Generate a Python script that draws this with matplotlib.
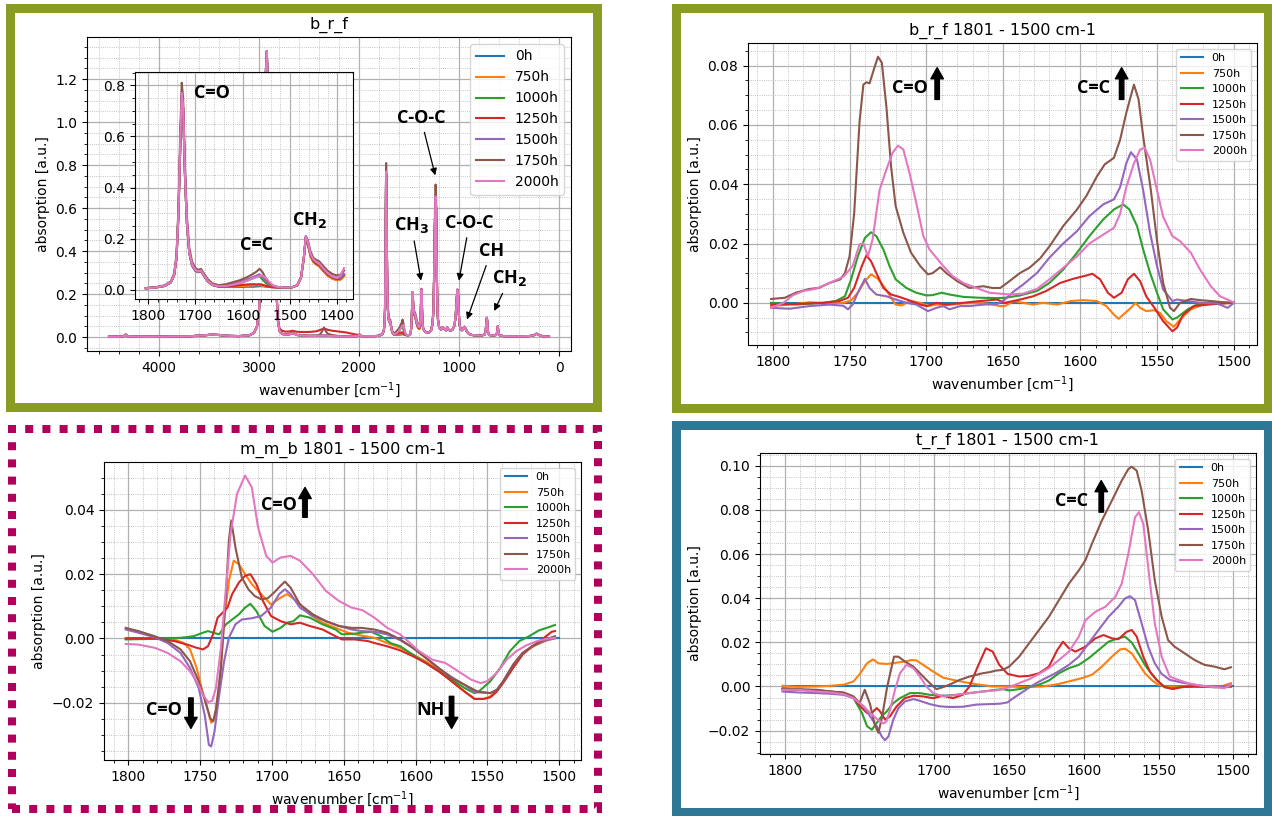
import numpy as np
import matplotlib.pyplot as plt
from matplotlib.patches import Rectangle
from matplotlib.ticker import AutoMinorLocator, MultipleLocator

W, H = 1272, 816

hours = ['0h', '750h', '1000h', '1250h', '1500h', '1750h', '2000h']
colors = ['C0', 'C1', 'C2', 'C3', 'C4', 'C5', 'C6']

# ---------------- b_r_f full spectrum (4500 - 100 cm-1) ----------------
# segment A: 4500 - 2826, identical for every ageing time
brf_seg_a = [(4500, 0.002), (4420, 0.002), (4355, 0.004), (4332, 0.012), (4315, 0.004),
             (4250, 0.003), (4100, 0.002), (3900, 0.003), (3700, 0.004), (3560, 0.008),
             (3470, 0.012), (3400, 0.010), (3300, 0.006), (3200, 0.005), (3100, 0.008),
             (3050, 0.020), (3020, 0.050), (3000, 0.120), (2985, 0.300), (2970, 0.600),
             (2955, 0.900), (2940, 1.100), (2930, 1.250), (2922, 1.330), (2914, 1.200),
             (2905, 0.950), (2895, 0.800), (2880, 0.720), (2866, 0.800), (2856, 0.900),
             (2848, 0.850), (2838, 0.550), (2826, 0.220)]

# segment B: 2812 - 1815
brf_seg_b = [(2812, 0.080), (2795, 0.030), (2770, 0.015), (2740, 0.012), (2700, 0.012),
             (2670, 0.018), (2650, 0.016), (2620, 0.010), (2580, 0.008), (2500, 0.006),
             (2430, 0.006), (2390, 0.007), (2365, 0.008), (2350, 0.009), (2335, 0.008),
             (2310, 0.006), (2270, 0.005), (2200, 0.004), (2130, 0.003), (2060, 0.004),
             (2010, 0.005), (1995, 0.012), (1980, 0.005), (1940, 0.004), (1880, 0.005),
             (1840, 0.005), (1815, 0.006)]
brf_seg_b_1250h = [(2812, 0.085), (2795, 0.040), (2770, 0.030), (2740, 0.026), (2700, 0.026),
                   (2670, 0.030), (2650, 0.028), (2620, 0.025), (2580, 0.024), (2500, 0.024),
                   (2430, 0.027), (2390, 0.033), (2365, 0.038), (2350, 0.040), (2335, 0.038),
                   (2310, 0.034), (2270, 0.030), (2200, 0.026), (2130, 0.022), (2060, 0.015),
                   (2010, 0.010), (1995, 0.012), (1980, 0.006), (1940, 0.005), (1880, 0.005),
                   (1840, 0.005), (1815, 0.006)]
brf_seg_b_1750h = [(2812, 0.080), (2795, 0.030), (2770, 0.016), (2740, 0.013), (2700, 0.014),
                   (2670, 0.020), (2650, 0.017), (2620, 0.011), (2580, 0.009), (2500, 0.007),
                   (2430, 0.007), (2390, 0.012), (2365, 0.030), (2350, 0.045), (2335, 0.030),
                   (2310, 0.015), (2270, 0.010), (2200, 0.005), (2130, 0.004), (2060, 0.004),
                   (2010, 0.005), (1995, 0.012), (1980, 0.005), (1940, 0.004), (1880, 0.005),
                   (1840, 0.005), (1815, 0.006)]

# segment MID: 1805 - 1385 (this part is also shown in the inset)
brf_mid_wn = [1805, 1785, 1765, 1752, 1745, 1740, 1736, 1733, 1729, 1726,
              1722, 1718, 1713, 1707, 1700, 1694, 1688, 1682, 1674, 1664,
              1650, 1635, 1620, 1605, 1590, 1578, 1570, 1564, 1558, 1550,
              1542, 1535, 1525, 1510, 1495, 1484, 1476, 1470, 1466, 1462,
              1456, 1450, 1444, 1438, 1430, 1420, 1410, 1400, 1392, 1385]
brf_mid_0h = [0.006, 0.009, 0.015, 0.029, 0.058, 0.125, 0.290, 0.500, 0.760, 0.710,
              0.440, 0.260, 0.145, 0.095, 0.075, 0.069, 0.073, 0.056, 0.034, 0.019,
              0.012, 0.011, 0.011, 0.011, 0.012, 0.012, 0.013, 0.014, 0.014, 0.012,
              0.011, 0.010, 0.009, 0.009, 0.010, 0.017, 0.048, 0.125, 0.200, 0.180,
              0.132, 0.110, 0.100, 0.094, 0.077, 0.057, 0.045, 0.039, 0.042, 0.055]
brf_mid_750h = [0.006, 0.009, 0.015, 0.029, 0.058, 0.125, 0.290, 0.500, 0.760, 0.710,
                0.440, 0.260, 0.145, 0.095, 0.075, 0.069, 0.073, 0.056, 0.034, 0.019,
                0.012, 0.012, 0.013, 0.014, 0.016, 0.017, 0.018, 0.018, 0.016, 0.013,
                0.011, 0.010, 0.009, 0.009, 0.010, 0.017, 0.048, 0.125, 0.200, 0.180,
                0.130, 0.108, 0.098, 0.092, 0.075, 0.055, 0.043, 0.037, 0.040, 0.052]
brf_mid_1000h = [0.006, 0.009, 0.015, 0.029, 0.058, 0.125, 0.290, 0.500, 0.760, 0.710,
                 0.440, 0.260, 0.145, 0.095, 0.075, 0.069, 0.073, 0.056, 0.034, 0.019,
                 0.013, 0.015, 0.020, 0.027, 0.036, 0.045, 0.052, 0.054, 0.040, 0.025,
                 0.016, 0.012, 0.010, 0.009, 0.010, 0.018, 0.050, 0.130, 0.205, 0.185,
                 0.135, 0.113, 0.103, 0.097, 0.080, 0.060, 0.048, 0.042, 0.045, 0.058]
brf_mid_1250h = [0.006, 0.009, 0.015, 0.029, 0.058, 0.125, 0.290, 0.500, 0.760, 0.710,
                 0.440, 0.260, 0.145, 0.095, 0.075, 0.069, 0.073, 0.056, 0.034, 0.019,
                 0.012, 0.013, 0.015, 0.018, 0.021, 0.022, 0.021, 0.022, 0.020, 0.015,
                 0.011, 0.010, 0.009, 0.009, 0.010, 0.018, 0.050, 0.130, 0.205, 0.185,
                 0.135, 0.113, 0.103, 0.097, 0.080, 0.060, 0.048, 0.042, 0.045, 0.060]
brf_mid_1500h = [0.006, 0.009, 0.015, 0.029, 0.058, 0.125, 0.290, 0.500, 0.760, 0.710,
                 0.440, 0.260, 0.145, 0.095, 0.075, 0.069, 0.073, 0.056, 0.034, 0.019,
                 0.014, 0.017, 0.023, 0.031, 0.041, 0.050, 0.056, 0.061, 0.050, 0.033,
                 0.020, 0.014, 0.010, 0.009, 0.010, 0.018, 0.050, 0.130, 0.210, 0.190,
                 0.140, 0.118, 0.108, 0.102, 0.085, 0.065, 0.052, 0.046, 0.048, 0.062]
brf_mid_1750h = [0.007, 0.010, 0.018, 0.033, 0.065, 0.140, 0.320, 0.550, 0.810, 0.750,
                 0.480, 0.290, 0.165, 0.110, 0.085, 0.078, 0.082, 0.064, 0.042, 0.025,
                 0.018, 0.022, 0.030, 0.038, 0.050, 0.062, 0.072, 0.082, 0.070, 0.042,
                 0.025, 0.016, 0.011, 0.009, 0.010, 0.018, 0.050, 0.130, 0.210, 0.195,
                 0.150, 0.125, 0.117, 0.112, 0.095, 0.075, 0.062, 0.056, 0.060, 0.075]
brf_mid_2000h = [0.006, 0.009, 0.016, 0.030, 0.060, 0.130, 0.300, 0.520, 0.770, 0.720,
                 0.450, 0.270, 0.150, 0.100, 0.078, 0.072, 0.076, 0.058, 0.036, 0.020,
                 0.014, 0.015, 0.020, 0.027, 0.036, 0.045, 0.050, 0.054, 0.056, 0.045,
                 0.028, 0.017, 0.011, 0.009, 0.010, 0.018, 0.050, 0.130, 0.210, 0.190,
                 0.140, 0.120, 0.110, 0.104, 0.086, 0.066, 0.052, 0.046, 0.058, 0.085]

# segment LOW: 1380 - 100
brf_seg_low = [(1380, 0.150), (1376, 0.220), (1372, 0.170), (1366, 0.070), (1358, 0.040),
               (1345, 0.028), (1325, 0.022), (1300, 0.022), (1280, 0.030), (1265, 0.060),
               (1255, 0.130), (1246, 0.350), (1240, 0.550), (1234, 0.655), (1229, 0.600),
               (1224, 0.380), (1218, 0.180), (1210, 0.080), (1198, 0.045), (1180, 0.035),
               (1165, 0.045), (1150, 0.040), (1130, 0.032), (1118, 0.045), (1105, 0.035),
               (1085, 0.030), (1065, 0.035), (1045, 0.055), (1033, 0.100), (1024, 0.170),
               (1016, 0.220), (1010, 0.200), (1003, 0.120), (995, 0.060), (985, 0.038),
               (970, 0.032), (955, 0.042), (945, 0.048), (935, 0.040), (920, 0.025),
               (900, 0.015), (870, 0.010), (820, 0.008), (770, 0.008), (745, 0.012),
               (733, 0.030), (726, 0.070), (721, 0.090), (716, 0.060), (709, 0.022),
               (698, 0.010), (660, 0.008), (630, 0.010), (620, 0.020), (613, 0.050),
               (607, 0.030), (598, 0.010), (560, 0.005), (480, 0.004), (380, 0.004),
               (300, 0.005), (255, 0.008), (225, 0.016), (200, 0.010), (160, 0.004),
               (100, 0.002)]
brf_seg_low_1750h = [(1380, 0.152), (1376, 0.225), (1372, 0.172), (1366, 0.072), (1358, 0.041),
                     (1345, 0.029), (1325, 0.023), (1300, 0.023), (1280, 0.031), (1265, 0.064),
                     (1255, 0.140), (1246, 0.380), (1240, 0.600), (1234, 0.710), (1229, 0.650),
                     (1224, 0.400), (1218, 0.190), (1210, 0.082), (1198, 0.046), (1180, 0.036),
                     (1165, 0.045), (1150, 0.040), (1130, 0.032), (1118, 0.045), (1105, 0.035),
                     (1085, 0.030), (1065, 0.035), (1045, 0.055), (1033, 0.100), (1024, 0.170),
                     (1016, 0.222), (1010, 0.200), (1003, 0.120), (995, 0.060), (985, 0.038),
                     (970, 0.032), (955, 0.042), (945, 0.048), (935, 0.040), (920, 0.025),
                     (900, 0.015), (870, 0.010), (820, 0.008), (770, 0.008), (745, 0.012),
                     (733, 0.030), (726, 0.070), (721, 0.090), (716, 0.060), (709, 0.022),
                     (698, 0.010), (660, 0.008), (630, 0.010), (620, 0.020), (613, 0.050),
                     (607, 0.030), (598, 0.010), (560, 0.005), (480, 0.004), (380, 0.004),
                     (300, 0.005), (255, 0.008), (225, 0.016), (200, 0.010), (160, 0.004),
                     (100, 0.002)]

# ---------------- difference spectra 1801 - 1500 cm-1 ----------------
zero_line = [(1801, 0.0), (1500, 0.0)]

brf_750h = [(1801, -0.0011), (1785, -0.0004), (1776, 0.0002), (1763, -0.0002), (1754, 0.0),
            (1749, 0.0008), (1744.6, 0.0034), (1740, 0.0073), (1736, 0.0096), (1731.5, 0.0081),
            (1727, 0.005), (1723, 0.0017), (1720, -0.0006), (1716, -0.0009), (1713, 0.0),
            (1710, 0.0006), (1704, 0.0), (1699, -0.0011), (1693.5, -0.0006), (1687, -0.0008),
            (1676, -0.0002), (1665, 0.0), (1657, -0.0006), (1652, -0.0011), (1649, -0.0011),
            (1643, 0.0006), (1637, 0.0), (1630.6, -0.0006), (1624, 0.0), (1615, -0.0006),
            (1606, 0.0006), (1598, 0.0009), (1589, 0.0006), (1583, -0.0011), (1578, -0.004),
            (1575, -0.0054), (1572, -0.004), (1567, -0.0017), (1564, 0.0), (1561, -0.0017),
            (1557, -0.0028), (1552, -0.0025), (1548, -0.0034), (1544, -0.0062), (1539, -0.0081),
            (1535, -0.0056), (1528, -0.0022), (1520, -0.0006), (1507, -0.0002), (1500, 0.0)]
brf_1000h = [(1801, 0.0), (1785, -0.0006), (1767, 0.0), (1759, 0.0006), (1753, 0.0022),
             (1749, 0.0079), (1744.6, 0.0157), (1740, 0.0219), (1736, 0.0238), (1732.6, 0.0225),
             (1728, 0.018), (1724, 0.0124), (1720, 0.0079), (1713, 0.005), (1706.6, 0.0034),
             (1700, 0.0025), (1696, 0.0026), (1690, 0.0034), (1685, 0.0028), (1676, 0.002),
             (1665, 0.0017), (1654, 0.0016), (1649, 0.0017), (1639, 0.0025), (1628, 0.004),
             (1620, 0.0067), (1611, 0.0112), (1602, 0.0169), (1594, 0.0225), (1585, 0.0281),
             (1578, 0.0315), (1572, 0.0332), (1568, 0.0315), (1563, 0.0259), (1559, 0.018),
             (1554.5, 0.0101), (1550, 0.0034), (1546, -0.0022), (1540, -0.0056), (1537, -0.005),
             (1530, -0.0022), (1524, -0.0006), (1515, 0.0), (1500, 0.0)]
brf_1250h = [(1801, -0.0006), (1785, -0.0004), (1767, 0.0), (1756.5, 0.0006), (1751, 0.0017),
             (1747, 0.005), (1742, 0.0124), (1739, 0.016), (1736, 0.014), (1732.6, 0.0101),
             (1728, 0.005), (1723, 0.0028), (1717, 0.0019), (1711, 0.0008), (1704, -0.0006),
             (1700, -0.0011), (1693.5, 0.0), (1687, -0.0006), (1676, 0.0), (1665, 0.0006),
             (1654, 0.0011), (1649, 0.0), (1639, 0.0011), (1630.6, 0.0022), (1622, 0.004),
             (1613, 0.0067), (1604.5, 0.0081), (1596, 0.0092), (1592, 0.0098), (1587, 0.0079),
             (1582, 0.0034), (1578, 0.0017), (1573, 0.0034), (1569, 0.0079), (1565, 0.0098),
             (1561, 0.0073), (1557, 0.0022), (1551, -0.0022), (1546, -0.0062), (1540, -0.0096),
             (1537, -0.0084), (1533, -0.004), (1526, -0.0011), (1517, -0.0006), (1507, -0.0002),
             (1500, 0.0)]
brf_1500h = [(1801, -0.0017), (1789, -0.002), (1776, -0.0011), (1763, -0.0006), (1754, -0.001),
             (1751, -0.0022), (1748, -0.0006), (1744.6, 0.0034), (1740, 0.0081), (1737, 0.005),
             (1732.6, 0.0028), (1726, 0.0022), (1720, 0.0011), (1713, 0.0), (1706.6, -0.0006),
             (1699, -0.0028), (1693.5, -0.0017), (1689, -0.0011), (1685, -0.0022), (1678, -0.0011),
             (1672, -0.0011), (1663, -0.0006), (1654, -0.0004), (1649, 0.0011), (1643, 0.0039),
             (1637, 0.0062), (1628, 0.0101), (1620, 0.0152), (1611, 0.020), (1602, 0.0242),
             (1594, 0.0292), (1585, 0.0332), (1578, 0.0349), (1574, 0.039), (1570, 0.047),
             (1567, 0.0508), (1563, 0.0483), (1559, 0.038), (1554.5, 0.0236), (1550, 0.0124),
             (1546, 0.0045), (1540, 0.0006), (1537, 0.0011), (1530, 0.0006), (1522, 0.0),
             (1511, -0.0002), (1504, -0.0017), (1500, 0.0)]
brf_1750h = [(1801, 0.0013), (1792, 0.0017), (1785, 0.0034), (1776, 0.0047), (1770, 0.005),
             (1763, 0.0067), (1756, 0.0079), (1753, 0.010), (1750, 0.0157), (1747, 0.030),
             (1743.5, 0.061), (1741, 0.0736), (1739, 0.0744), (1737, 0.074), (1734, 0.079),
             (1731.5, 0.083), (1729, 0.081), (1726, 0.066), (1723, 0.046), (1720, 0.0326),
             (1715, 0.0236), (1710, 0.0169), (1704, 0.0124), (1699, 0.0096), (1696, 0.010),
             (1691, 0.012), (1687, 0.010), (1680, 0.0073), (1672, 0.005), (1663, 0.0056),
             (1657, 0.005), (1652, 0.005), (1646, 0.0073), (1639, 0.0101), (1633, 0.0118),
             (1626, 0.015), (1620, 0.019), (1611, 0.0259), (1602, 0.0315), (1596, 0.036),
             (1589, 0.0427), (1584, 0.0467), (1578, 0.0489), (1574, 0.055), (1570, 0.064),
             (1565, 0.0736), (1562, 0.0686), (1559, 0.0562), (1554, 0.038), (1550, 0.021),
             (1546, 0.0067), (1541.5, -0.0017), (1539, -0.0028), (1535, 0.0), (1528, 0.0013),
             (1522, 0.0009), (1515, 0.0006), (1507, 0.0002), (1500, 0.0)]
brf_2000h = [(1801, -0.0017), (1793, 0.0), (1787, 0.0025), (1780, 0.004), (1772, 0.0047),
             (1763, 0.0067), (1754, 0.0088), (1748, 0.0124), (1743.5, 0.0197), (1741, 0.020),
             (1738, 0.0157), (1735, 0.0214), (1730.5, 0.038), (1726, 0.045), (1722, 0.0506),
             (1718.5, 0.053), (1715, 0.0517), (1711, 0.0438), (1706.6, 0.0337), (1702, 0.0225),
             (1698, 0.018), (1693.5, 0.0152), (1689, 0.0124), (1683, 0.009), (1676, 0.0067),
             (1667.5, 0.005), (1659, 0.0034), (1646, 0.0028), (1637, 0.0031), (1628, 0.0047),
             (1620, 0.0079), (1611, 0.0118), (1602, 0.0157), (1594, 0.020), (1585, 0.023),
             (1578, 0.0253), (1574, 0.030), (1570, 0.039), (1565, 0.047), (1561, 0.0517),
             (1558, 0.0523), (1554.5, 0.0483), (1550, 0.038), (1546, 0.029), (1540, 0.0225),
             (1535, 0.0208), (1528, 0.0169), (1522, 0.0112), (1515, 0.0056), (1509, 0.0022),
             (1502, 0.0006), (1500, 0.0)]

mmb_750h = [(1801.8, 0.0), (1781.6, 0.0), (1768, -0.0003), (1761.4, -0.0014), (1757, -0.0034),
            (1752.4, -0.0092), (1749, -0.0154), (1745.6, -0.0206), (1742.3, -0.0262), (1740, -0.025),
            (1736.7, -0.0154), (1733.3, 0.0054), (1730, 0.0179), (1726.6, 0.0242), (1723, 0.0231),
            (1718.7, 0.020), (1714, 0.0169), (1707.5, 0.0138), (1700.7, 0.0106), (1694, 0.0127),
            (1689.5, 0.0138), (1682.8, 0.0117), (1673.8, 0.0075), (1664.8, 0.0049), (1655.8, 0.0033),
            (1647, 0.0018), (1637.8, 0.0009), (1628.8, 0.0002), (1620, -0.0014), (1610.8, -0.0029),
            (1602, -0.005), (1593, -0.0071), (1584, -0.0097), (1575, -0.0133), (1566, -0.0165),
            (1559, -0.0188), (1552.5, -0.0188), (1548, -0.018), (1543.5, -0.0165), (1539, -0.0133),
            (1532, -0.0081), (1525.5, -0.0045), (1516.5, -0.0021), (1509.8, -0.0008), (1503, 0.0002)]
mmb_1000h = [(1801.8, -0.0003), (1781.6, -0.0001), (1763.6, 0.0002), (1754.6, 0.0007), (1748, 0.0018),
             (1744.5, 0.0023), (1741, 0.0018), (1736.7, 0.0013), (1732, 0.0044), (1727.7, 0.0059),
             (1723, 0.0075), (1718.7, 0.0096), (1715, 0.0108), (1710.8, 0.0085), (1705.2, 0.0039),
             (1699.6, 0.0021), (1694, 0.0033), (1689.5, 0.0049), (1685, 0.0054), (1680.5, 0.0072),
             (1673.8, 0.0065), (1664.8, 0.0044), (1655.8, 0.0028), (1651.3, 0.0013), (1642.3, 0.0015),
             (1637.8, 0.0018), (1631, 0.0021), (1624, 0.0007), (1617.6, -0.0014), (1610.8, -0.0024),
             (1602, -0.005), (1593, -0.0076), (1584, -0.0102), (1575, -0.0128), (1566, -0.0154),
             (1559, -0.017), (1556, -0.0165), (1548, -0.0133), (1541.2, -0.0092), (1534.5, -0.004),
             (1527.8, -0.0008), (1521, 0.0007), (1514.3, 0.0025), (1507.5, 0.0035), (1503, 0.0042)]
mmb_1250h = [(1801.8, 0.0), (1781.6, 0.0), (1768, -0.0008), (1759, -0.0019), (1752.4, -0.0029),
             (1748, -0.0034), (1744.5, -0.0024), (1741, 0.0013), (1737.8, 0.0065), (1734.4, 0.008),
             (1731, 0.0096), (1727.7, 0.0138), (1723, 0.0174), (1718.7, 0.0195), (1715, 0.020),
             (1710.8, 0.0169), (1706.3, 0.0117), (1700.7, 0.007), (1694, 0.0054), (1687, 0.0044),
             (1680.5, 0.0049), (1673.8, 0.0039), (1664.8, 0.0028), (1655.8, 0.0007), (1651.3, -0.0003),
             (1642.3, -0.0003), (1633.3, -0.0008), (1628.8, -0.0014), (1620, -0.0024), (1610.8, -0.0037),
             (1602, -0.0055), (1593, -0.0076), (1584, -0.0102), (1575, -0.0133), (1566, -0.0165),
             (1559, -0.0188), (1552.5, -0.0188), (1548, -0.0183), (1543.5, -0.0165), (1539, -0.0138),
             (1532, -0.0091), (1525.5, -0.005), (1518.8, -0.0024), (1512, -0.0003), (1505.3, 0.0021),
             (1503, 0.0023)]
mmb_1500h = [(1801.8, 0.0028), (1793, 0.0018), (1781.6, 0.0004), (1772.6, -0.0014), (1763.6, -0.0045),
             (1757, -0.0092), (1751, -0.0154), (1746.8, -0.0238), (1743.9, -0.0331), (1742.3, -0.0336),
             (1740, -0.029), (1736.7, -0.0175), (1733.3, -0.0071), (1730, 0.0002), (1725.4, 0.0044),
             (1721, 0.0059), (1714, 0.0063), (1707.5, 0.007), (1700.7, 0.0096), (1695, 0.0138),
             (1691, 0.0153), (1687, 0.0138), (1680.5, 0.0096), (1671.5, 0.007), (1662.5, 0.0054),
             (1653.5, 0.0039), (1644.6, 0.0028), (1637.8, 0.0023), (1628.8, 0.0021), (1620, 0.0013),
             (1610.8, -0.0005), (1602, -0.0029), (1593, -0.006), (1584, -0.0092), (1575, -0.012),
             (1566, -0.0144), (1559, -0.0167), (1548, -0.017), (1543.5, -0.016), (1539, -0.0133),
             (1532, -0.0081), (1525.5, -0.0045), (1518.8, -0.0024), (1509.8, -0.0006), (1503, 0.0)]
mmb_1750h = [(1801.8, 0.0033), (1793, 0.0023), (1781.6, 0.0007), (1772.6, -0.0008), (1763.6, -0.0034),
             (1757, -0.0071), (1751, -0.0133), (1746.8, -0.019), (1743, -0.0248), (1741, -0.0258),
             (1739, -0.0222), (1735.5, -0.0092), (1732, 0.0138), (1730, 0.0304), (1728.3, 0.0367),
             (1725.4, 0.0283), (1721, 0.019), (1716.4, 0.0153), (1712, 0.0132), (1707.5, 0.0122),
             (1703, 0.0125), (1698.5, 0.0143), (1694, 0.0164), (1691, 0.0177), (1687, 0.0158),
             (1680.5, 0.0106), (1671.5, 0.0075), (1662.5, 0.0054), (1653.5, 0.0039), (1644.6, 0.0033),
             (1637.8, 0.0033), (1628.8, 0.0028), (1620, 0.0018), (1610.8, -0.0003), (1601.9, -0.0029),
             (1593, -0.006), (1584, -0.0092), (1575, -0.0123), (1566, -0.0144), (1557, -0.0165),
             (1548, -0.017), (1543.5, -0.016), (1539, -0.0133), (1532, -0.0081), (1525.5, -0.0045),
             (1518.8, -0.0024), (1509.8, -0.0003), (1503, 0.0007)]
mmb_2000h = [(1801.8, -0.0017), (1793, -0.0019), (1781.6, -0.0029), (1772.6, -0.0045), (1763.6, -0.0071),
             (1757, -0.0102), (1752.4, -0.0133), (1748, -0.0175), (1744.5, -0.0198), (1741.6, -0.0194),
             (1739, -0.0154), (1735.5, -0.0029), (1732, 0.0158), (1728.8, 0.0325), (1724.3, 0.045),
             (1718.7, 0.0507), (1714, 0.047), (1709.7, 0.0346), (1704, 0.0257), (1699.6, 0.0236),
             (1694, 0.0252), (1687, 0.0257), (1680.5, 0.0242), (1671.5, 0.020), (1662.5, 0.0148),
             (1653.5, 0.0117), (1644.6, 0.0096), (1637, 0.0088), (1628.8, 0.0065), (1619.8, 0.0033),
             (1610.8, 0.0013), (1604, -0.0014), (1597.4, -0.004), (1588.4, -0.0066), (1579.4, -0.0076),
             (1570.4, -0.0102), (1561.4, -0.0128), (1554.7, -0.0139), (1550.2, -0.0133), (1543.5, -0.0107),
             (1536.7, -0.0066), (1530, -0.004), (1523.3, -0.0022), (1515.4, -0.0008), (1507.5, 0.0),
             (1503, 0.0002)]

trf_750h = [(1801.5, 0.0003), (1791.6, -0.0002), (1778.3, 0.0), (1769.5, 0.0003), (1760.6, 0.0008),
            (1754, 0.0023), (1749.5, 0.006), (1745, 0.0105), (1741, 0.0123), (1737.4, 0.0105),
            (1731.8, 0.0102), (1725.2, 0.0108), (1719.7, 0.0113), (1715.2, 0.012), (1712, 0.0118),
            (1707.5, 0.0098), (1700.9, 0.0068), (1694.2, 0.004), (1687.6, 0.003), (1678.7, 0.0018),
            (1670, 0.0008), (1661, 0.0), (1650, 0.0), (1641, -0.0003), (1627.8, 0.0),
            (1619, 0.0008), (1610, 0.0023), (1601.2, 0.0038), (1594.6, 0.0053), (1588, 0.009),
            (1581.3, 0.0135), (1575.8, 0.0168), (1572.5, 0.0171), (1568, 0.015), (1563.6, 0.0105),
            (1559.2, 0.006), (1554.8, 0.003), (1550.4, 0.0008), (1546, 0.0), (1539.3, 0.0),
            (1526, 0.0), (1508.3, 0.0), (1501.7, 0.0015)]
trf_1000h = [(1801.5, -0.0012), (1791.6, -0.0015), (1778.3, -0.0018), (1769.5, -0.0023), (1760.6, -0.003),
             (1754, -0.0053), (1748.4, -0.012), (1745, -0.018), (1741.8, -0.0196), (1738.5, -0.0165),
             (1735.2, -0.0135), (1731.8, -0.0113), (1727.4, -0.0075), (1723, -0.0053), (1716.3, -0.003),
             (1709.7, -0.003), (1703, -0.0038), (1694.2, -0.0042), (1685.4, -0.0038), (1676.5, -0.003),
             (1667.7, -0.0023), (1658.8, -0.0015), (1654.3, -0.0012), (1650, -0.0018), (1643.3, -0.0012),
             (1636.6, -0.0003), (1630, 0.0008), (1623.4, 0.0027), (1616.7, 0.006), (1610, 0.0083),
             (1603.4, 0.0098), (1596.8, 0.0128), (1590.2, 0.0165), (1583.5, 0.0203), (1577, 0.0218),
             (1572.5, 0.0226), (1568, 0.0199), (1563.6, 0.015), (1559.2, 0.0098), (1554.8, 0.0057),
             (1550.4, 0.0023), (1546, -0.0003), (1541.5, -0.0008), (1534.8, -0.0003), (1526, 0.0),
             (1512.7, -0.0003), (1501.7, 0.0)]
trf_1250h = [(1801.5, -0.0012), (1791.6, -0.0015), (1778.3, -0.0018), (1769.5, -0.0023), (1760.6, -0.003),
             (1754, -0.0053), (1748.4, -0.0098), (1745, -0.012), (1741.8, -0.012), (1738.5, -0.0098),
             (1736.3, -0.0113), (1733, -0.015), (1729.6, -0.0135), (1725.2, -0.009), (1719.7, -0.0053),
             (1714, -0.0042), (1707.5, -0.0045), (1700.9, -0.0053), (1694.2, -0.0042), (1687.6, -0.0053),
             (1681, -0.0038), (1676.5, 0.0), (1671, 0.009), (1665.5, 0.0173), (1661, 0.0158),
             (1656.6, 0.0098), (1651, 0.0057), (1643.3, 0.0045), (1636.6, 0.0048), (1630, 0.006),
             (1623.4, 0.009), (1617.8, 0.0165), (1614, 0.0203), (1610, 0.0173), (1605.7, 0.0158),
             (1599, 0.018), (1592.4, 0.0218), (1586.9, 0.0233), (1581.3, 0.0218), (1577, 0.0214),
             (1571.4, 0.0248), (1568, 0.0256), (1564.7, 0.0226), (1560.3, 0.0135), (1555.9, 0.0068),
             (1551.4, 0.003), (1546, -0.0003), (1540.4, -0.0012), (1534.8, -0.0003), (1526, 0.0),
             (1512.7, -0.0003), (1501.7, 0.0)]
trf_1500h = [(1801.5, -0.0023), (1791.6, -0.0027), (1778.3, -0.003), (1769.5, -0.0033), (1760.6, -0.0038),
             (1754, -0.0053), (1747.3, -0.009), (1743, -0.0135), (1738.5, -0.018), (1735.2, -0.0226),
             (1733, -0.0244), (1730.7, -0.0226), (1727.4, -0.015), (1724, -0.0098), (1719.7, -0.0068),
             (1714, -0.0057), (1709.7, -0.0065), (1703, -0.008), (1696.4, -0.009), (1689.8, -0.0093),
             (1681, -0.0092), (1672, -0.0082), (1663.2, -0.008), (1656, -0.0078), (1651, -0.0072),
             (1647.7, -0.0055), (1641, -0.0025), (1634.4, 0.0005), (1627.8, 0.003), (1619, 0.006),
             (1610, 0.0098), (1603.4, 0.0135), (1596.8, 0.0196), (1590.2, 0.0256), (1583.5, 0.0316),
             (1577, 0.0361), (1572.5, 0.0399), (1569.2, 0.0409), (1565.8, 0.0391), (1561.4, 0.0286),
             (1557, 0.018), (1552.6, 0.0105), (1548, 0.0057), (1542.6, 0.003), (1534.8, 0.0018),
             (1526, 0.0008), (1517.2, 0.0), (1508.3, -0.0003), (1501.7, 0.0008)]
trf_1750h = [(1801.5, -0.0008), (1791.6, -0.0012), (1778.3, -0.0015), (1769.5, -0.0023), (1760.6, -0.0027),
             (1754, -0.0045), (1750, -0.0075), (1746.5, -0.0015), (1743, -0.008), (1740, -0.017),
             (1737.4, -0.021), (1735, -0.014), (1731.5, 0.0), (1727, 0.0135), (1724, 0.0135),
             (1719.7, 0.0113), (1714, 0.009), (1707.5, 0.0045), (1702, 0.0008), (1698.6, -0.0012),
             (1694.2, -0.0003), (1690, 0.0008), (1683, 0.003), (1676.5, 0.0045), (1667.7, 0.006),
             (1663, 0.0065), (1658.8, 0.0072), (1654.3, 0.0075), (1650, 0.009), (1643.3, 0.0135),
             (1636.6, 0.0196), (1630, 0.0256), (1623.4, 0.0316), (1616.7, 0.0391), (1610, 0.0466),
             (1603.4, 0.0526), (1599, 0.0572), (1594.6, 0.0647), (1588, 0.0752), (1581.3, 0.0842),
             (1574.7, 0.0933), (1570.3, 0.0985), (1568, 0.0996), (1564.7, 0.0978), (1561.4, 0.0887),
             (1557, 0.0707), (1552.6, 0.0481), (1548, 0.0316), (1543.7, 0.021), (1539.3, 0.018),
             (1532.6, 0.015), (1526, 0.012), (1519.4, 0.0098), (1512.7, 0.009), (1506, 0.0078),
             (1501.7, 0.0087)]
trf_2000h = [(1801.5, -0.0015), (1791.6, -0.0015), (1778.3, -0.0023), (1769.5, -0.0027), (1760.6, -0.0035),
             (1754, -0.0053), (1747.3, -0.009), (1743, -0.012), (1738.5, -0.0147), (1734, -0.0168),
             (1732, -0.0158), (1729.6, -0.0105), (1726.3, -0.0015), (1723, 0.006), (1718.6, 0.0098),
             (1714, 0.0083), (1709.7, 0.0045), (1705.3, 0.0), (1700.9, -0.003), (1694.2, -0.0045),
             (1685.4, -0.0038), (1676.5, -0.003), (1667.7, -0.0023), (1658.8, -0.0018), (1654.3, -0.0012),
             (1650, -0.0003), (1643.3, 0.0015), (1636.6, 0.0033), (1630, 0.0057), (1623.4, 0.0083),
             (1616.7, 0.012), (1610, 0.0158), (1603.4, 0.0226), (1599, 0.030), (1592.4, 0.0338),
             (1585.7, 0.0361), (1579, 0.0406), (1574.7, 0.0466), (1570.3, 0.0602), (1565.8, 0.0767),
             (1563.2, 0.079), (1560.3, 0.0737), (1557, 0.054), (1552.6, 0.0286), (1548, 0.0135),
             (1542.6, 0.0045), (1537, 0.003), (1530.4, 0.0015), (1521.6, 0.0003), (1512.7, -0.0003),
             (1506, -0.0008), (1501.7, 0.0008)]

brf_zoom = [zero_line, brf_750h, brf_1000h, brf_1250h, brf_1500h, brf_1750h, brf_2000h]
mmb_zoom = [zero_line, mmb_750h, mmb_1000h, mmb_1250h, mmb_1500h, mmb_1750h, mmb_2000h]
trf_zoom = [zero_line, trf_750h, trf_1000h, trf_1250h, trf_1500h, trf_1750h, trf_2000h]

ANNOT_FONT = dict(family='Open Sans', weight='bold', fontsize=13)


def px_axes(fig, left, top, right, bottom):
    """Add axes from pixel edges of the 1272x816 canvas."""
    return fig.add_axes([left / W, 1 - bottom / H, (right - left) / W, (bottom - top) / H])


def px_frame(fig, left, top, right, bottom, color, lw_px, dashed=False):
    rect = Rectangle((left / W, 1 - bottom / H), (right - left) / W, (bottom - top) / H,
                     transform=fig.transFigure, fill=False, edgecolor=color,
                     linewidth=lw_px * 0.72, joinstyle='miter', capstyle='butt')
    if dashed:
        rect.set_linestyle((0, (1.0, 1.15)))
    fig.patches.append(rect)


def style_axes(ax, xstep):
    ax.xaxis.set_major_locator(MultipleLocator(xstep))
    ax.xaxis.set_minor_locator(AutoMinorLocator())
    ax.yaxis.set_minor_locator(AutoMinorLocator())
    ax.grid(True, which='major', color='#b0b0b0', linewidth=0.9)
    ax.grid(True, which='minor', color='#b0b0b0', linestyle=':', linewidth=0.6)
    ax.set_axisbelow(True)
    ax.tick_params(labelsize=10)


def thick_arrow(ax, x, y0, y1):
    ax.annotate('', xy=(x, y1), xytext=(x, y0),
                arrowprops=dict(facecolor='black', edgecolor='black', width=3.2,
                                headwidth=9, headlength=8, shrink=0))


def plot_zoom(ax, series, title):
    for pts, lab, col in zip(series, hours, colors):
        wn, ab = zip(*pts)
        ax.plot(wn, ab, color=col, lw=1.5, label=lab)
    ax.invert_xaxis()
    style_axes(ax, 50)
    ax.set_title(title, fontsize=11.5)
    ax.set_xlabel('wavenumber [cm$^{-1}$]', fontsize=10)
    ax.set_ylabel('absorption [a.u.]', fontsize=10)
    ax.legend(loc='upper right', fontsize=8)


fig = plt.figure(figsize=(W / 100, H / 100), dpi=100)

# ---------- top left: whole spectrum with inset ----------
b_variant = {'1250h': brf_seg_b_1250h, '1750h': brf_seg_b_1750h}
low_variant = {'1750h': brf_seg_low_1750h}
mid_series = [brf_mid_0h, brf_mid_750h, brf_mid_1000h, brf_mid_1250h,
              brf_mid_1500h, brf_mid_1750h, brf_mid_2000h]

ax_full = px_axes(fig, 87, 37, 571, 351)
ax_in = px_axes(fig, 135, 72, 353, 299)
for lab, col, mid in zip(hours, colors, mid_series):
    seg_b = b_variant.get(lab, brf_seg_b)
    seg_low = low_variant.get(lab, brf_seg_low)
    wn = [p[0] for p in brf_seg_a + seg_b] + brf_mid_wn + [p[0] for p in seg_low]
    ab = [p[1] for p in brf_seg_a + seg_b] + mid + [p[1] for p in seg_low]
    ax_full.plot(wn, ab, color=col, lw=1.5, label=lab)
    # the inset only shows the 1805 - 1385 cm-1 part
    ax_in.plot(brf_mid_wn, mid, color=col, lw=1.5)

ax_full.invert_xaxis()
style_axes(ax_full, 1000)
ax_full.set_title('b_r_f', fontsize=11.5)
ax_full.set_xlabel('wavenumber [cm$^{-1}$]', fontsize=10)
ax_full.set_ylabel('absorption [a.u.]', fontsize=10)
ax_full.legend(loc='upper right', fontsize=10)

arrow_thin = dict(arrowstyle='-|>', color='black', lw=0.9, mutation_scale=10)
ax_full.annotate('C-O-C', xy=(1231, 0.74), xytext=(1382, 1.02), ha='center', va='center',
                 arrowprops=arrow_thin, **ANNOT_FONT)
ax_full.annotate(r'CH$_\mathbf{3}$', xy=(1375, 0.25), xytext=(1475, 0.52), ha='center', va='center',
                 arrowprops=arrow_thin, **ANNOT_FONT)
ax_full.annotate('C-O-C', xy=(1006, 0.25), xytext=(896, 0.53), ha='center', va='center',
                 arrowprops=arrow_thin, **ANNOT_FONT)
ax_full.annotate('CH', xy=(929, 0.07), xytext=(677, 0.40), ha='center', va='center',
                 arrowprops=arrow_thin, **ANNOT_FONT)
ax_full.annotate(r'CH$_\mathbf{2}$', xy=(660, 0.11), xytext=(492, 0.275), ha='center', va='center',
                 arrowprops=arrow_thin, **ANNOT_FONT)

ax_in.set_xlim(1828, 1366)
ax_in.set_ylim(-0.036, 0.852)
style_axes(ax_in, 100)
ax_in.yaxis.set_major_locator(MultipleLocator(0.2))
ax_in.text(1665, 0.77, 'C=O', ha='center', va='center', **ANNOT_FONT)
ax_in.text(1570, 0.176, 'C=C', ha='center', va='center', **ANNOT_FONT)
ax_in.text(1457, 0.273, r'CH$_\mathbf{2}$', ha='center', va='center', **ANNOT_FONT)

# ---------- top right ----------
ax_tr = px_axes(fig, 748, 43, 1257, 345)
plot_zoom(ax_tr, brf_zoom, 'b_r_f 1801 - 1500 cm-1')
ax_tr.text(1711, 0.0725, 'C=O', ha='center', va='center', **ANNOT_FONT)
thick_arrow(ax_tr, 1693, 0.0686, 0.0793)
ax_tr.text(1591, 0.0725, 'C=C', ha='center', va='center', **ANNOT_FONT)
thick_arrow(ax_tr, 1573, 0.0686, 0.0793)

# ---------- bottom left ----------
ax_bl = px_axes(fig, 104, 462, 581, 760)
plot_zoom(ax_bl, mmb_zoom, 'm_m_b 1801 - 1500 cm-1')
ax_bl.text(1695, 0.0414, 'C=O', ha='center', va='center', **ANNOT_FONT)
thick_arrow(ax_bl, 1677, 0.0377, 0.047)
ax_bl.text(1775, -0.0222, 'C=O', ha='center', va='center', **ANNOT_FONT)
thick_arrow(ax_bl, 1756.4, -0.0185, -0.028)
ax_bl.text(1589.5, -0.0222, 'NH', ha='center', va='center', **ANNOT_FONT)
thick_arrow(ax_bl, 1575, -0.018, -0.028)

# ---------- bottom right ----------
ax_br = px_axes(fig, 760, 453, 1256, 754)
plot_zoom(ax_br, trf_zoom, 't_r_f 1801 - 1500 cm-1')
ax_br.text(1608, 0.0842, 'C=C', ha='center', va='center', **ANNOT_FONT)
thick_arrow(ax_br, 1588.4, 0.079, 0.0933)

# ---------- coloured frames ----------
px_frame(fig, 9.5, 7.5, 596.5, 406.5, '#8b9c24', 9)
px_frame(fig, 675.5, 7.5, 1267.5, 407.5, '#8b9c24', 9)
px_frame(fig, 12, 429, 598, 809, '#b1005c', 8, dashed=True)
px_frame(fig, 675.5, 424.5, 1267.5, 811.5, '#2e7896', 9)

fig.savefig('out.png', dpi=100)
